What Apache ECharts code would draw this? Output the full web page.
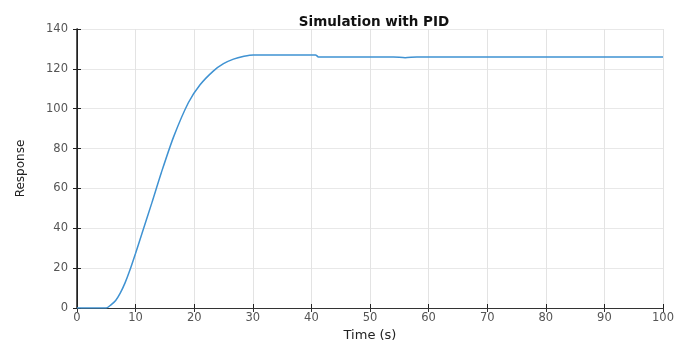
<!DOCTYPE html>
<html>
<head>
<meta charset="utf-8">
<script src="https://cdn.jsdelivr.net/npm/echarts@6/dist/echarts.min.js"></script>
<style>
  html, body { margin: 0; padding: 0; background: #fff; }
  #chart { width: 676px; height: 340px; }
</style>
</head>
<body>
<div id="chart"></div>
<script>
// response curve
const timeValues = [0, 4, 5, 5.8, 6.6, 7.4, 8.2, 9.0, 10.0, 11.1, 12.8, 14.4, 16.5, 19.0, 21.0, 23.3, 25, 26.7, 28.5, 30.1, 35, 40.7, 41.2, 48, 54, 56, 58, 65, 80, 100]
const responseValues = [0, 0, 0, 1.6, 3.8, 7.6, 12.6, 18.8, 27.5, 37.5, 53, 68, 86, 103, 112, 119, 122.6, 124.9, 126.3, 127, 127, 127, 126, 126, 126, 125.6, 126, 126, 126, 126]
const xTicks = [0, 10, 20, 30, 40, 50, 60, 70, 80, 90, 100]
const yTicks = [0, 20, 40, 60, 80, 100, 120, 140]

const points = timeValues.map((t, i) => [t, responseValues[i]])

const fam = 'DejaVu Sans, Liberation Sans, sans-serif'
const labelFont = { color: '#555', fontSize: 11.5, fontFamily: fam }

const chart = echarts.init(document.getElementById('chart'), null, { renderer: 'canvas' })

const option = {
    animation: false,
    title: {
        text: 'Simulation with PID',
        left: 369,
        top: 10,
        textAlign: 'center',
        textStyle: { fontSize: 13.5, fontWeight: 'bold', color: '#111', fontFamily: fam }
    },
    grid: { left: 77, right: 13, top: 29, bottom: 32, outerBoundsMode: 'none', containLabel: false },
    xAxis: [{
        type: 'value',
        min: 0, max: 100, interval: 10,
        name: 'Time (s)',
        nameLocation: 'middle',
        nameGap: 19,
        nameTextStyle: { color: '#222', fontSize: 13, fontFamily: fam },
        axisLine: { show: true, lineStyle: { color: '#222', width: 1 } },
        axisTick: { show: true, inside: true, length: 4, lineStyle: { color: '#222' } },
        axisLabel: Object.assign({ margin: 4, formatter: v => xTicks.includes(v) ? String(v) : '' }, labelFont),
        splitLine: { show: true, lineStyle: { color: '#e3e3e3', width: 1 } }
    }, {
        type: 'value',
        position: 'top',
        min: 0, max: 100, interval: 10,
        axisLine: { show: true, lineStyle: { color: '#333', width: 1 } },
        axisTick: { show: true, inside: true, length: 4, lineStyle: { color: '#333' } },
        axisLabel: { show: false },
        splitLine: { show: false }
    }],
    yAxis: [{
        type: 'value',
        min: 0, max: 140, interval: 20,
        name: 'Response',
        nameLocation: 'middle',
        nameGap: 50,
        nameTextStyle: { color: '#222', fontSize: 12, fontFamily: fam },
        axisLine: { show: true, lineStyle: { color: '#222', width: 1 } },
        axisTick: { show: true, inside: true, length: 4, lineStyle: { color: '#222' } },
        axisLabel: Object.assign({ margin: 9, formatter: v => yTicks.includes(v) ? String(v) : '' }, labelFont),
        splitLine: { show: true, lineStyle: { color: '#e8e8e8', width: 1 } }
    }, {
        type: 'value',
        position: 'right',
        min: 0, max: 140, interval: 20,
        axisLine: { show: true, lineStyle: { color: '#222', width: 1.5 } },
        axisTick: { show: true, inside: true, length: 4, lineStyle: { color: '#222' } },
        axisLabel: { show: false },
        splitLine: { show: false }
    }],
    series: [{
        name: 'Response',
        type: 'line',
        xAxisIndex: 0,
        yAxisIndex: 0,
        smooth: 0.25,
        showSymbol: false,
        lineStyle: { color: '#3f92d2', width: 1.5 },
        data: points
    }]
}

chart.setOption(option)
</script>
</body>
</html>
